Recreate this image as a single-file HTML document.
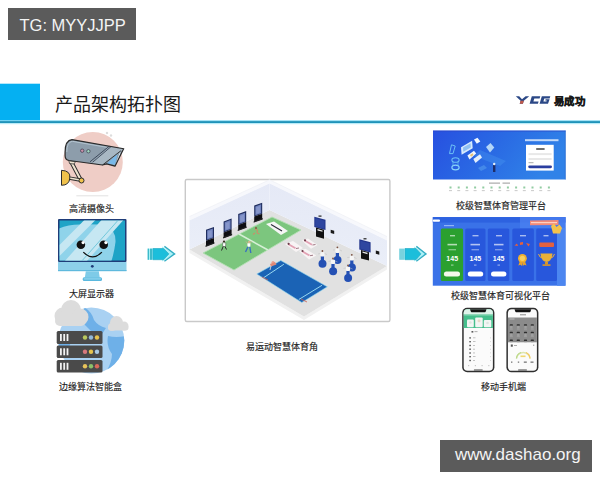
<!DOCTYPE html>
<html lang="zh-CN"><head><meta charset="utf-8">
<style>
html,body{margin:0;padding:0;}
body{width:600px;height:480px;position:relative;overflow:hidden;background:#fff;font-family:"Liberation Sans",sans-serif;}
.abs{position:absolute;}
svg.full{position:absolute;left:0;top:0;}
.tag{position:absolute;background:#5b5b5b;color:#f4f4f4;white-space:nowrap;}
.lbl{position:absolute;color:#222;font-size:9px;line-height:10px;white-space:nowrap;font-weight:400;-webkit-text-stroke:0.15px #222;}
</style></head>
<body>
<svg class="full" width="600" height="480" viewBox="0 0 600 480">
<!-- header -->
<rect x="0" y="83.7" width="40" height="37.5" fill="#05b0f2"/>
<rect x="0" y="120.2" width="600" height="1" fill="#8fdcf4"/>
<rect x="0" y="121.1" width="600" height="2.1" fill="#1f93ba"/>
<rect x="0" y="123.2" width="600" height="1" fill="#b5ecf8"/>

<!-- ===== camera icon ===== -->
<g id="camera">
<circle cx="92.8" cy="162" r="30" fill="#efcdc6"/>
<rect x="76.3" y="195.3" width="32" height="1" fill="#e2e2e2"/>
<circle cx="107" cy="133" r="1.2" fill="#ddd"/><circle cx="111" cy="135.5" r="1.2" fill="#ddd"/>
<!-- arm -->
<path d="M71 161.5 L80.5 179.5" stroke="#2d2d2d" stroke-width="4" stroke-linecap="round"/>
<path d="M71 161.5 L80.5 179.5" stroke="#efe3d0" stroke-width="2" stroke-linecap="round"/>
<path d="M68 177.8 L80 180" stroke="#2d2d2d" stroke-width="3.4"/>
<path d="M68 177.8 L80 180" stroke="#efe3d0" stroke-width="1.5"/>
<path d="M61.5 170.3 Q70.8 170.8 69.8 178 Q69.3 185.3 61.5 185.3 Z" fill="#f0c24c" stroke="#2d2d2d" stroke-width="1"/>
<circle cx="81.5" cy="180.5" r="2.5" fill="#f0c24c" stroke="#2d2d2d" stroke-width="1"/>
<path d="M68.8 160.6 L75.5 161.6 L74 164 L69.5 163.5 Z" fill="#efe3d0" stroke="#2d2d2d" stroke-width="0.7"/>
<!-- body -->
<path d="M65.1 152 Q65.1 140.3 72 139.6 L123.75 148.75 L122.9 150.2 L115 166.2 L106.7 163.9 L102.5 165 L69 160.5 Q65.3 159.8 65.1 156 Z" fill="#8d9dab"/>
<path d="M66.8 152 Q66.8 142 72.3 141.3 L108 147.5" fill="none" stroke="#b8c8d4" stroke-width="0.9"/>
<path d="M91.5 162.6 L109.8 146.4 L123.75 148.75 L122.9 150.2 L120.8 150.8 L102.5 165 Z" fill="#a8b7c3"/>
<path d="M90 161.8 L109.2 146.2 M92.6 162.3 L111 146.6" stroke="#2a3548" stroke-width="0.8"/>
<path d="M106.7 163.8 L117.5 153.7 L115.2 164.8 Z" fill="#79b8e8"/>
<path d="M120.2 152.5 L116.2 163.8" stroke="#e0eef8" stroke-width="0.9"/>
<path d="M102.5 165 L120.8 150.8" stroke="#2d2d2d" stroke-width="0.9"/>
<path d="M65.1 152 Q65.1 140.3 72 139.6 L123.75 148.75 L122.9 150.2 L115 166.2 L106.7 163.9 L102.5 165 L69 160.5 Q65.3 159.8 65.1 156 Z" fill="none" stroke="#2a2a2a" stroke-width="1.2" stroke-linejoin="round"/>
<circle cx="82.2" cy="150.7" r="1.7" fill="#c890a8" stroke="#3a3a4a" stroke-width="0.7"/>
<circle cx="88.4" cy="151.25" r="1.7" fill="#a0d8c0" stroke="#3a3a4a" stroke-width="0.7"/>
</g>

<!-- ===== monitor icon ===== -->
<g id="monitor">
<rect x="58" y="219" width="68.5" height="43" rx="1" fill="#1f3c78"/>
<rect x="59.5" y="220.5" width="65.5" height="40" fill="#1ea3c6"/>
<clipPath id="scr"><rect x="59.5" y="220.5" width="65.5" height="40"/></clipPath>
<g clip-path="url(#scr)">
<path d="M59 228.5 Q68 224.5 80 224.4 Q98 224.2 106 225 Q116 230 115.5 242 Q114 254 111 262 L59 262 Z" fill="#8fd3ea"/>
<path d="M84.4 220 L95.5 220 L59.5 256 L59.5 245 Z" fill="#c6e7f2"/>
<path d="M101.5 220 L123.5 220 L86 262 L64 262 Z" fill="#c6e7f2"/>
<path d="M118.3 220 L81.8 261" stroke="#5cc0d6" stroke-width="0.8"/>
</g>
<rect x="58" y="262" width="68.5" height="9" fill="#8dd0ea"/>
<rect x="58" y="270" width="68.5" height="1.2" fill="#5fb9dd"/>
<circle cx="92.3" cy="266.3" r="1.4" fill="#1f3c78"/>
<path d="M85.8 271.2 L98.8 271.2 L99.8 278 L84.8 278 Z" fill="#7ecbe8"/>
<rect x="82.7" y="277.3" width="19.3" height="3.8" rx="1.5" fill="#5ab8de"/>
<rect x="83.7" y="277.6" width="17.3" height="2.2" rx="1" fill="#82cdea"/>
<circle cx="80.9" cy="244.8" r="4.3" fill="#111"/><circle cx="83.1" cy="242.6" r="1.6" fill="#fff"/>
<circle cx="103.7" cy="244.8" r="4.3" fill="#111"/><circle cx="105.9" cy="242.6" r="1.6" fill="#fff"/>
<path d="M83.3 252.2 Q92.6 261.5 101.9 252.2" fill="none" stroke="#111" stroke-width="1.2"/>
</g>

<!-- ===== server icon ===== -->
<g id="server">
<circle cx="91.3" cy="340.6" r="33" fill="#a9d1f2"/>
<clipPath id="glb"><circle cx="91.3" cy="340.6" r="33"/></clipPath>
<g clip-path="url(#glb)" fill="#6eb0e8">
<path d="M84 307 Q92 312 94 320 Q98 326 106 328 L102 334 L92 332 Q86 326 82 322 Z"/>
<path d="M56 330 Q64 330 70 338 Q72 346 66 350 L56 350 Z"/>
<path d="M108 336 Q116 338 126 336 L126 372 L106 372 Q112 362 112 354 Q106 346 108 336 Z"/>
</g>
<g fill="#dcdcdc">
<circle cx="63" cy="316" r="8.5"/><circle cx="71" cy="310" r="10"/><circle cx="80" cy="317" r="8.5"/><rect x="55" y="316" width="31" height="10" rx="5"/>
<circle cx="116.5" cy="322.5" r="6.5"/><circle cx="112" cy="327" r="4"/><circle cx="124" cy="326" r="4.5"/><rect x="108" y="325" width="20.5" height="5.5" rx="2.7"/>
</g>
<g>
<rect x="56.7" y="331" width="45.8" height="13" rx="1.5" fill="#4a4a4a"/>
<rect x="56.7" y="345.5" width="45.8" height="12.5" rx="1.5" fill="#4a4a4a"/>
<rect x="56.7" y="360" width="45.8" height="12.5" rx="1.5" fill="#4a4a4a"/>
<g fill="#f2f2f2">
<rect x="60" y="334" width="1.8" height="7"/><rect x="63.3" y="334" width="1.8" height="7"/><rect x="66.6" y="334" width="1.8" height="7"/>
<rect x="60" y="348.3" width="1.8" height="7"/><rect x="63.3" y="348.3" width="1.8" height="7"/><rect x="66.6" y="348.3" width="1.8" height="7"/>
<rect x="60" y="362.8" width="1.8" height="7"/><rect x="63.3" y="362.8" width="1.8" height="7"/><rect x="66.6" y="362.8" width="1.8" height="7"/>
</g>
<circle cx="85" cy="337.5" r="2.2" fill="#b9c85e"/><circle cx="91" cy="337.5" r="2.2" fill="#93b9d9"/><circle cx="97" cy="337.5" r="2.2" fill="#e6c34e"/>
<circle cx="85" cy="351.8" r="2.2" fill="#d8797d"/><circle cx="91" cy="351.8" r="2.2" fill="#e6c34e"/><circle cx="97" cy="351.8" r="2.2" fill="#a9c8e2"/>
<circle cx="85" cy="366.3" r="2.2" fill="#e8c35a"/><circle cx="91" cy="366.3" r="2.2" fill="#8cc06a"/><circle cx="97" cy="366.3" r="2.2" fill="#d9685a"/>
</g>
</g>

<!-- ===== arrows ===== -->
<g id="arrow1">
<rect x="147.6" y="248.6" width="5.3" height="11.2" fill="#a6f0f6"/>
<rect x="147.7" y="248.6" width="1.2" height="11.2" fill="#34b4c6"/>
<rect x="150.1" y="248.6" width="1.8" height="11.2" fill="#34b4c6"/>
<path d="M162 246.4 L174.8 253.9 L162 261.4 Z" fill="#aef2f8"/>
<path d="M152.9 248.5 L163.5 248.5 L168.9 253.9 L163.5 259.7 L152.9 259.7 Z" fill="#1cbedb" stroke="#2aaec6" stroke-width="0.7"/>
<path d="M164.4 246.4 L174.6 253.9 L164.4 261.3" fill="none" stroke="#34aec4" stroke-width="1.4"/>
</g>
<g id="arrow2">
<rect x="399.2" y="248.6" width="5" height="11.2" fill="#78d2de"/>
<rect x="404.1" y="248.6" width="1" height="11.2" fill="#aaf2f8"/>
<path d="M414 246.4 L426.2 253.9 L414 261.4 Z" fill="#aef2f8"/>
<path d="M405 248.5 L416 248.5 L421 253.9 L416 259.7 L405 259.7 Z" fill="#1cbedb" stroke="#2aaec6" stroke-width="0.7"/>
<path d="M416.3 246.4 L426 253.9 L416.3 261.3" fill="none" stroke="#34aec4" stroke-width="1.4"/>
</g>

<!-- ===== scene ===== -->
<g id="scene">
<rect x="185.3" y="179.5" width="204.6" height="142" rx="1.5" fill="#fff" stroke="#c9c9c9" stroke-width="1.4"/>
<!-- floor lip -->
<path d="M189.5 249.5 L304 316.5 L387 266 L387 269.5 L304 320 L189.5 253 Z" fill="#f1f1f1"/>
<!-- floor -->
<path d="M189.5 249.5 L269.5 210 L387 266 L304 316.5 Z" fill="#e1e1e1"/>
<!-- walls -->
<defs>
<linearGradient id="wl" x1="0" y1="0" x2="0" y2="1"><stop offset="0" stop-color="#e5e9f6"/><stop offset="1" stop-color="#eaeef8"/></linearGradient>
</defs>
<path d="M189.5 220 L269.5 183 L269.5 210 L189.5 249.5 Z" fill="url(#wl)"/>
<path d="M269.5 183 L387 240 L387 266 L269.5 210 Z" fill="url(#wl)"/>
<path d="M189.5 216.5 L269.5 179.8 L387 236.5 L387 240.5 L269.5 183.5 L189.5 220.5 Z" fill="#f7f8fc"/>
<path d="M189.5 216.5 L269.5 179.8 L387 236.5" fill="none" stroke="#eceef4" stroke-width="0.6"/>
<!-- green mat -->
<path d="M203 253 L272 217 L301 230 L234 270 Z" fill="#7cc67e" stroke="#b4e0b4" stroke-width="0.9"/>
<path d="M239 234 L268 250" stroke="#d6f0d6" stroke-width="1.5"/>
<path d="M266 224 L274 221.5 L288 231 L281 235 Z" fill="#f6f6f6"/>
<path d="M271 224.5 L282 231" stroke="#2a2a3a" stroke-width="1.1"/>
<!-- kiosks -->
<g>
<g transform="translate(206 229.8) skewY(-20)"><rect x="0" y="0" width="8" height="11.0" fill="#1f2d5e"/><rect x="1.1" y="1.2" width="5.8" height="8.9" fill="#7083bf"/><rect x="2" y="2.5" width="3.8" height="6.5" fill="#9aa8d6" opacity="0.5"/><rect x="0" y="11.0" width="8" height="5.5" fill="#0e0e12"/><rect x="-0.5" y="15.5" width="9" height="1.4" fill="#222"/></g>
<g transform="translate(223.6 221.4) skewY(-20)"><rect x="0" y="0" width="8" height="11.0" fill="#1f2d5e"/><rect x="1.1" y="1.2" width="5.8" height="8.9" fill="#7083bf"/><rect x="2" y="2.5" width="3.8" height="6.5" fill="#9aa8d6" opacity="0.5"/><rect x="0" y="11.0" width="8" height="5.5" fill="#0e0e12"/><rect x="-0.5" y="15.5" width="9" height="1.4" fill="#222"/></g>
<g transform="translate(238.2 214) skewY(-20)"><rect x="0" y="0" width="8" height="11.0" fill="#1f2d5e"/><rect x="1.1" y="1.2" width="5.8" height="8.9" fill="#7083bf"/><rect x="2" y="2.5" width="3.8" height="6.5" fill="#9aa8d6" opacity="0.5"/><rect x="0" y="11.0" width="8" height="5.5" fill="#0e0e12"/><rect x="-0.5" y="15.5" width="9" height="1.4" fill="#222"/></g>
<g transform="translate(254.2 205.6) skewY(-20)"><rect x="0" y="0" width="8" height="11.0" fill="#1f2d5e"/><rect x="1.1" y="1.2" width="5.8" height="8.9" fill="#7083bf"/><rect x="2" y="2.5" width="3.8" height="6.5" fill="#9aa8d6" opacity="0.5"/><rect x="0" y="11.0" width="8" height="5.5" fill="#0e0e12"/><rect x="-0.5" y="15.5" width="9" height="1.4" fill="#222"/></g>
</g>
<!-- people on green -->
<g>
<circle cx="224" cy="241.5" r="1.1" fill="#3a2a20"/><path d="M222.5 242.8 L225.8 242.8 L225.5 246.5 L222.8 246.5 Z" fill="#fff" stroke="#333" stroke-width="0.4"/><path d="M223.2 246.5 L221.5 250.5 M225 246.5 L226.5 249.5" stroke="#2a2a2a" stroke-width="1"/>
<circle cx="249" cy="242" r="1.1" fill="#e8b090"/><path d="M247.3 243.2 L250.5 243.2 L250.3 246.8 L247.6 246.8 Z" fill="#fff"/><path d="M248 246.8 L245.5 252 M249.8 246.8 L250.8 253" stroke="#3a70c0" stroke-width="1.4"/><path d="M247.5 243.5 L246 241.5 M250.3 243.5 L251.5 241" stroke="#e8b090" stroke-width="0.6"/>
<circle cx="256" cy="228" r="1.1" fill="#8a5a40"/><path d="M254.8 229.5 L257.5 230 L257 233 M255 233 L253 234.5 M257 233 L259.5 234" stroke="#c9906a" stroke-width="1.2" fill="none"/>
</g>
<!-- exercise mats -->
<g>
<path d="M285 244 L293 241 L303 248 L296 252 Z" fill="#f8f4f5"/><path d="M288.5 244.3 L295.5 248.3" stroke="#e2a2b4" stroke-width="1.8"/><circle cx="288.6" cy="243.8" r="1.1" fill="#6a3a48"/><path d="M296 248.5 L299 248" stroke="#8a5a68" stroke-width="0.8"/>
<path d="M301.9 240.5 L308 238.5 L317.5 245 L311 248.8 Z" fill="#f8f4f5"/><path d="M305 240.8 L312 244.8" stroke="#e2a2b4" stroke-width="1.8"/><circle cx="305" cy="240.3" r="1.1" fill="#6a3a48"/><path d="M312.5 245 L315.5 244.5" stroke="#8a5a68" stroke-width="0.8"/>
<path d="M299 251 L305.5 248.8 L316.3 255.5 L309 259.4 Z" fill="#f8f4f5"/><path d="M302.5 251.5 L309.5 255.5" stroke="#e2a2b4" stroke-width="1.8"/><circle cx="302.5" cy="251" r="1.1" fill="#6a3a48"/><path d="M310 255.7 L313 255.2" stroke="#8a5a68" stroke-width="0.8"/>
</g>
<!-- TVs -->
<g>
<path d="M314.3 216.7 L325.5 219.8 L325.5 230 L314.3 227 Z" fill="#23368c"/>
<path d="M315.3 218.2 L324.5 220.8 L324.5 228.8 L315.3 226.2 Z" fill="#2e46a0"/>
<rect x="318.5" y="215.5" width="3" height="1.2" fill="#222"/>
<path d="M316 227.6 L324 229.8 L324 238.8 L316 236.6 Z" fill="#111"/>
<path d="M317.5 229 L322.5 230.4 L322.5 231.8 L317.5 230.4 Z" fill="#e8e8e8"/>
<path d="M330.7 229.7 L334.2 230.7 L334.2 234 L330.7 233 Z" fill="#1a1a1a"/>
<path d="M359.3 239.3 L370.6 242.3 L370.6 252.5 L359.3 249.5 Z" fill="#23368c"/>
<path d="M360.3 240.8 L369.6 243.3 L369.6 251.3 L360.3 248.8 Z" fill="#2e46a0"/>
<rect x="363.5" y="238.2" width="3" height="1.2" fill="#222"/>
<path d="M361 250 L369 252.2 L369 260.6 L361 258.4 Z" fill="#111"/>
<path d="M362.5 251.4 L367.5 252.8 L367.5 254.2 L362.5 252.8 Z" fill="#e8e8e8"/>
<path d="M375.8 250.5 L379.3 251.5 L379.3 254.8 L375.8 253.8 Z" fill="#1a1a1a"/>
</g>
<!-- blue mat -->
<path d="M256.8 274 L280.8 260.5 L327.3 286.8 L301.8 302.5 Z" fill="#1b63b5" stroke="#8cd6f0" stroke-width="0.6"/>
<path d="M263.5 277.8 L283.8 264.3 M298.8 299.5 L322 285.3" stroke="#a6e4f6" stroke-width="0.9"/>
<path d="M262 277 L268 280 M301 299 L307 302" stroke="#d06050" stroke-width="0.8"/>
<g fill="#e9a090"><circle cx="273" cy="262.5" r="1.6"/></g>
<path d="M270 264 L275 262 L276.5 264.5 L271 266.5 Z" fill="#e08a78"/>
<path d="M271 266 L270 270" stroke="#f0e0e0" stroke-width="0.8"/>
<!-- bikes -->
<g fill="#2450b4">
<circle cx="322.5" cy="263.7" r="4"/><rect x="320.8" y="255.8" width="3.2" height="6"/>
<circle cx="337.5" cy="260" r="4"/><rect x="335.8" y="252.2" width="3.2" height="6"/>
<circle cx="333.1" cy="271.2" r="4"/><rect x="331.4" y="263.4" width="3.2" height="6"/>
<circle cx="351.9" cy="267.5" r="4"/><rect x="350.2" y="259.7" width="3.2" height="6"/>
<circle cx="348.1" cy="278.1" r="4"/><rect x="346.4" y="270.3" width="3.2" height="6"/>
</g>
<g fill="#f6f6f6">
<rect x="320.3" y="252.3" width="4.2" height="4.3" rx="1"/><rect x="335.3" y="248.6" width="4.2" height="4.3" rx="1"/><rect x="330.9" y="259.8" width="4.2" height="4.3" rx="1"/><rect x="349.7" y="256.1" width="4.2" height="4.3" rx="1"/><rect x="345.9" y="266.8" width="4.2" height="4.3" rx="1"/>
</g>
<g fill="#7a5040">
<circle cx="322.4" cy="251" r="0.9"/><circle cx="337.4" cy="247.3" r="0.9"/><circle cx="333" cy="258.5" r="0.9"/><circle cx="351.8" cy="254.8" r="0.9"/><circle cx="348" cy="265.5" r="0.9"/>
</g>
<g stroke="#bdbdbd" stroke-width="0.5">
<path d="M318 254 L320.3 253.5 M324.5 253.5 L327 254.5 M333 250 L335.3 249.8 M339.5 249.8 L342 251 M328.5 261.3 L330.9 261 M335.1 261 L337.5 262 M347.3 257.5 L349.7 257.3 M353.9 257.3 L356.5 258.5 M343.5 268.3 L345.9 268 M350.1 268 L352.5 269"/>
</g>
</g>

<!-- ===== screenshot 1 ===== -->
<g id="shot1">
<defs>
<linearGradient id="g1" x1="0" y1="0" x2="1" y2="0.3"><stop offset="0" stop-color="#2750e0"/><stop offset="0.55" stop-color="#2a6be4"/><stop offset="1" stop-color="#3082e8"/></linearGradient>
</defs>
<rect x="433" y="130.6" width="132.6" height="49.1" fill="url(#g1)"/>
<rect x="433" y="130.6" width="132.6" height="0.9" fill="#2a46c4" opacity="0.8"/>
<rect x="564.8" y="130.6" width="0.8" height="49.1" fill="#2a64c8" opacity="0.7"/>
<rect x="525" y="139.2" width="33.5" height="2" fill="#d4e4fb" opacity="0.9"/>
<rect x="526" y="144.8" width="27.7" height="25.8" fill="#fff"/>
<rect x="536.2" y="148.3" width="8.4" height="1.4" fill="#333"/>
<rect x="528.5" y="153.1" width="23.1" height="2" fill="#e8e8e8"/>
<rect x="528.5" y="158" width="23.1" height="2" fill="#e8e8e8"/>
<rect x="528.5" y="162.2" width="5" height="1" fill="#aaa"/>
<rect x="528.2" y="165.4" width="23.8" height="2.8" rx="1.4" fill="#2a3ea0"/>
<g>
<path d="M480 150 L506 161 L500 166 L474 156 Z" fill="#4a9af0" opacity="0.35"/>
<path d="M461 147.2 L472.1 140.75 L472.7 148.3 L461.6 154.75 Z" fill="#d6eafd"/>
<path d="M463 147.5 L470.5 143.2 L470.8 147.6 L463.3 151.8 Z" fill="#8ec0f2"/>
<path d="M474 139.5 L477.5 137.8 L480.3 141.5 L476.8 143.7 Z" fill="#f0f7ff"/>
<path d="M486 147 L490.5 143 L494.3 147.5 L490 152.4 Z" fill="#b4d6f8"/>
<path d="M467.4 155.5 L474 150.7 L476.2 153.5 L469.5 159.4 Z" fill="#eef5fd"/>
<path d="M473.3 159 L480 154.2 L482 157.5 L475.5 163 Z" fill="#e2eefc"/>
<path d="M470 155 L472.5 153.3 L473.5 155 L471 156.8 Z" fill="#e8c070"/>
<path d="M449.5 153.6 L451.5 144.8 L455.2 146 L453 153.6 Z" fill="none" stroke="#6cc0f6" stroke-width="1"/>
<ellipse cx="455.5" cy="160" rx="3.6" ry="2.3" fill="none" stroke="#6cc0f6" stroke-width="1.1"/>
<ellipse cx="455.5" cy="167.5" rx="3.6" ry="2.3" fill="none" stroke="#8ad6fa" stroke-width="1.2"/>
<path d="M453 162 L453 165.5 M458 162 L458 165.5" stroke="#5cb0f0" stroke-width="0.8"/>
<rect x="493" y="165" width="2.4" height="7" fill="#1e2e6a"/>
<circle cx="494.2" cy="164" r="1.2" fill="#e8f0f8"/>
<path d="M478 168 L484 165 L487 168 L481 171 Z" fill="#4a90ea" opacity="0.8"/>
</g>
<rect x="433" y="179.7" width="132.6" height="13.3" fill="#fff"/>
<rect x="489" y="182.6" width="11" height="1" fill="#999"/><rect x="502.5" y="182.6" width="7.5" height="1" fill="#999"/>
<g fill="#92cca2">
<rect x="449.5" y="186.5" width="2" height="2"/><rect x="457.7" y="186.5" width="2" height="2"/><rect x="465.9" y="186.5" width="2" height="2"/><rect x="474.1" y="186.5" width="2" height="2"/><rect x="482.3" y="186.5" width="2" height="2"/><rect x="490.5" y="186.5" width="2" height="2"/><rect x="498.7" y="186.5" width="2" height="2"/><rect x="506.9" y="186.5" width="2" height="2"/><rect x="515.1" y="186.5" width="2" height="2"/><rect x="523.3" y="186.5" width="2" height="2"/><rect x="531.5" y="186.5" width="2" height="2"/><rect x="539.7" y="186.5" width="2" height="2"/><rect x="547.9" y="186.5" width="2" height="2"/>
</g>
<g fill="#bbb">
<rect x="449" y="190.3" width="3" height="0.8"/><rect x="457.2" y="190.3" width="3" height="0.8"/><rect x="465.4" y="190.3" width="3" height="0.8"/><rect x="473.6" y="190.3" width="3" height="0.8"/><rect x="481.8" y="190.3" width="3" height="0.8"/><rect x="490" y="190.3" width="3" height="0.8"/><rect x="498.2" y="190.3" width="3" height="0.8"/><rect x="506.4" y="190.3" width="3" height="0.8"/><rect x="514.6" y="190.3" width="3" height="0.8"/><rect x="522.8" y="190.3" width="3" height="0.8"/><rect x="531" y="190.3" width="3" height="0.8"/><rect x="539.2" y="190.3" width="3" height="0.8"/><rect x="547.4" y="190.3" width="3" height="0.8"/>
</g>
</g>

<!-- ===== screenshot 2 ===== -->
<g id="shot2">
<rect x="432.8" y="217.1" width="132.7" height="68.6" fill="#3a72e8"/>
<rect x="432.8" y="217.1" width="132.7" height="5.5" fill="#2d62e0"/>
<rect x="520" y="217.1" width="45.5" height="11" fill="#4a80f0" opacity="0.8"/>
<rect x="557" y="228" width="8.5" height="57.7" fill="#4c86f0"/>
<rect x="432.8" y="219.4" width="7.2" height="2.3" rx="1" fill="#fff"/>
<rect x="444" y="225" width="10" height="1.2" fill="#8fb4f8"/>
<rect x="440.8" y="228.6" width="22.3" height="52.5" rx="1.5" fill="#2ba02f"/>
<rect x="465.2" y="228.6" width="20.3" height="52.5" rx="1.5" fill="#2857dc"/>
<rect x="487.8" y="228.6" width="21.5" height="52.5" rx="1.5" fill="#2857dc"/>
<rect x="512.3" y="228.6" width="21.6" height="52.5" rx="1.5" fill="#2857dc"/>
<rect x="536.2" y="228.6" width="20.8" height="52.5" rx="1.5" fill="#2857dc"/>
<g fill="#fff">
<rect x="450" y="235" width="5" height="1.4" opacity="0.6"/><rect x="472.5" y="235" width="6" height="1.4" opacity="0.6"/><rect x="496" y="235" width="6" height="1.4" opacity="0.6"/><rect x="520" y="235" width="6" height="1.4" opacity="0.6"/><rect x="543.5" y="235" width="5" height="1.4" opacity="0.6"/>
<rect x="447.5" y="243.8" width="9.5" height="1.6" opacity="0.65"/><rect x="470.5" y="243.8" width="9.5" height="1.6" opacity="0.65"/><rect x="494" y="243.8" width="9.5" height="1.6" opacity="0.65"/>
<rect x="448.5" y="249.2" width="7.5" height="1.1" opacity="0.5"/><rect x="471.5" y="249.2" width="7.5" height="1.1" opacity="0.5"/><rect x="495" y="249.2" width="7.5" height="1.1" opacity="0.5"/>
<rect x="451" y="264.5" width="2.5" height="1.2" opacity="0.5"/><rect x="474" y="264.5" width="2.5" height="1.2" opacity="0.5"/><rect x="497.5" y="264.5" width="2.5" height="1.2" opacity="0.5"/>
<rect x="443.9" y="271.4" width="16.1" height="5" rx="2.5" fill="#f4f8ea"/><rect x="467.8" y="271.4" width="15.4" height="5" rx="2.5"/><rect x="491" y="271.4" width="15.4" height="5" rx="2.5"/>
</g>
<g font-family="Liberation Sans" font-weight="bold" fill="#fff" font-size="7" text-anchor="middle">
<text x="452.2" y="261.4">145</text><text x="475.4" y="261.4">145</text><text x="498.6" y="261.4">145</text>
</g>
<!-- card 4 -->
<path d="M514.5 245.5 L517 243.5 L518 246 Z M520 242.5 L523 242 L523 244.5 L520 245 Z M526 243 L530 244 L528.5 246.5 Z" fill="#e8603a"/>
<circle cx="522.4" cy="258.3" r="4.4" fill="#f0b030"/><circle cx="522.4" cy="258.3" r="2.6" fill="#f8cf60"/>
<path d="M519.8 261.5 L518.3 265.5 L520.5 264.8 L522 266 L522.4 262.5 Z M525 261.5 L526.5 265.5 L524.3 264.8 L522.8 266 L522.4 262.5 Z" fill="#e9a22a"/>
<!-- card 5 -->
<rect x="539.3" y="242.5" width="14.7" height="4.6" rx="1" fill="#e3613e"/>
<path d="M540.5 253.5 L552.5 253.5 Q552 261 546.5 262 Q541 261 540.5 253.5 Z" fill="#e9b03a"/>
<path d="M538.5 254 Q540 258 542 258 M554.5 254 Q553 258 551 258" stroke="#e9b03a" stroke-width="1" fill="none"/>
<rect x="545" y="262" width="3" height="2.5" fill="#d9962a"/><rect x="542.5" y="264.3" width="8" height="1.6" fill="#d9962a"/>
<!-- banner -->
<path d="M530 220.5 L558.5 220 L558.5 225 L530 225.3 Z" fill="#f28a78"/>
<rect x="531" y="222" width="26" height="1.2" fill="#ffd0c0"/>
<path d="M551 226 L554 223.5 L556.5 227 L559.5 224.5 L562 228 L560 233.5 L553 233.5 Z" fill="#f3c24c"/>
</g>

<!-- ===== phones ===== -->
<g id="phones">
<!-- phone 1 -->
<rect x="462.2" y="307.8" width="32.2" height="64.5" rx="5" fill="#2f2f2f"/>
<rect x="463.7" y="309.3" width="29.2" height="61.5" rx="3.8" fill="#fbfbfb"/>
<path d="M463.7 313.1 Q463.7 309.3 467.5 309.3 L489.1 309.3 Q492.9 309.3 492.9 313.1 L492.9 328 L463.7 328 Z" fill="#45bf8c"/>
<path d="M463.7 313.1 Q463.7 309.3 467.5 309.3 L489.1 309.3 Q492.9 309.3 492.9 313.1 L492.9 314 L463.7 314 Z" fill="#dff3ea"/>
<rect x="463.7" y="314" width="29.2" height="1.5" fill="#8fd8b8"/>
<path d="M470 309.3 L486.5 309.3 L485.5 312 Q485 312.3 484 312.3 L472.5 312.3 Q471.5 312.3 471 312 Z" fill="#111"/>
<rect x="467" y="319.5" width="6.8" height="7.8" rx="1" fill="#f2f5f3"/>
<rect x="475.2" y="317.5" width="7.5" height="9.8" rx="1" fill="#f2f5f3"/>
<rect x="483.8" y="320" width="7.5" height="7.3" rx="1" fill="#f2f5f3"/>
<circle cx="470.4" cy="322.5" r="1.3" fill="#dbe6df"/><circle cx="479" cy="320.8" r="1.5" fill="#e8dcc8"/><circle cx="487.5" cy="323" r="1.3" fill="#dbe6df"/>
<g fill="#5a5a5a">
<rect x="471.5" y="331" width="1.8" height="1.6"/><rect x="474.5" y="331.3" width="3" height="0.8" fill="#999"/>
<rect x="469.3" y="337.2" width="1.6" height="1.4"/><rect x="473" y="337.5" width="2.5" height="0.7" fill="#aaa"/>
<rect x="469.3" y="341" width="1.6" height="1.4"/><rect x="473" y="341.3" width="2.5" height="0.7" fill="#aaa"/>
<rect x="469.3" y="344.8" width="1.6" height="1.4"/><rect x="473" y="345.1" width="2" height="0.7" fill="#aaa"/>
<rect x="469.3" y="348.5" width="1.6" height="1.4"/><rect x="473" y="348.8" width="2" height="0.7" fill="#aaa"/>
<rect x="469.3" y="352.3" width="1.6" height="1.4"/><rect x="473" y="352.6" width="2" height="0.7" fill="#aaa"/>
<rect x="469.3" y="356" width="1.6" height="1.4"/><rect x="473" y="356.3" width="2.5" height="0.7" fill="#aaa"/>
<rect x="469.3" y="359.8" width="1.6" height="1.4"/><rect x="473" y="360.1" width="2" height="0.7" fill="#aaa"/>
</g>
<g fill="#c8c8c8">
<rect x="490" y="337.5" width="0.8" height="0.8"/><rect x="490" y="341.3" width="0.8" height="0.8"/><rect x="490" y="345" width="0.8" height="0.8"/><rect x="490" y="348.8" width="0.8" height="0.8"/><rect x="490" y="352.5" width="0.8" height="0.8"/><rect x="490" y="356.3" width="0.8" height="0.8"/><rect x="490" y="360" width="0.8" height="0.8"/>
<rect x="468" y="365" width="1.2" height="1.2"/><rect x="474.8" y="365" width="1.2" height="1.2"/><rect x="481.5" y="365" width="1.2" height="1.2"/><rect x="488.2" y="365" width="1.2" height="1.2"/>
</g>
<rect x="473.8" y="369.6" width="9" height="0.8" rx="0.4" fill="#444"/>

<!-- phone 2 -->
<rect x="506.4" y="307.8" width="32" height="64.5" rx="5" fill="#2f2f2f"/>
<rect x="507.9" y="309.3" width="29" height="61.5" rx="3.8" fill="#fbfbfb"/>
<rect x="507.9" y="317.5" width="29" height="24.8" fill="#8b8b8b"/>
<path d="M514.5 309.3 L531.3 309.3 L530.3 312 Q529.8 312.3 528.8 312.3 L517 312.3 Q516 312.3 515.5 312 Z" fill="#111"/>
<rect x="520" y="314.3" width="6" height="1" fill="#888"/>
<rect x="509.5" y="318.6" width="5" height="0.8" fill="#c8c8c8"/>
<clipPath id="p2g"><rect x="507.9" y="317.5" width="29" height="24.8"/></clipPath>
<g clip-path="url(#p2g)">
<rect x="509.7" y="324.2" width="3.2" height="1.6" rx="0.6" fill="#2e2e2e"/><rect x="510.1" y="325.8" width="2.4" height="2.8" fill="#a0a0a0"/><rect x="509.8" y="328.8" width="3" height="0.7" fill="#a6a6a6"/>
<rect x="516.6999999999999" y="324.2" width="3.2" height="1.6" rx="0.6" fill="#2e2e2e"/><rect x="517.0999999999999" y="325.8" width="2.4" height="2.8" fill="#a0a0a0"/><rect x="516.8" y="328.8" width="3" height="0.7" fill="#a6a6a6"/>
<rect x="523.9" y="324.2" width="3.2" height="1.6" rx="0.6" fill="#2e2e2e"/><rect x="524.3" y="325.8" width="2.4" height="2.8" fill="#a0a0a0"/><rect x="524.0" y="328.8" width="3" height="0.7" fill="#a6a6a6"/>
<rect x="530.6999999999999" y="324.2" width="3.2" height="1.6" rx="0.6" fill="#2e2e2e"/><rect x="531.0999999999999" y="325.8" width="2.4" height="2.8" fill="#a0a0a0"/><rect x="530.8" y="328.8" width="3" height="0.7" fill="#a6a6a6"/>
<rect x="509.7" y="331.8" width="3.2" height="1.6" rx="0.6" fill="#2e2e2e"/><rect x="510.1" y="333.40000000000003" width="2.4" height="2.8" fill="#a0a0a0"/><rect x="509.8" y="336.40000000000003" width="3" height="0.7" fill="#a6a6a6"/>
<rect x="516.6999999999999" y="331.8" width="3.2" height="1.6" rx="0.6" fill="#2e2e2e"/><rect x="517.0999999999999" y="333.40000000000003" width="2.4" height="2.8" fill="#a0a0a0"/><rect x="516.8" y="336.40000000000003" width="3" height="0.7" fill="#a6a6a6"/>
<rect x="523.9" y="331.8" width="3.2" height="1.6" rx="0.6" fill="#2e2e2e"/><rect x="524.3" y="333.40000000000003" width="2.4" height="2.8" fill="#a0a0a0"/><rect x="524.0" y="336.40000000000003" width="3" height="0.7" fill="#a6a6a6"/>
<rect x="530.6999999999999" y="331.8" width="3.2" height="1.6" rx="0.6" fill="#2e2e2e"/><rect x="531.0999999999999" y="333.40000000000003" width="2.4" height="2.8" fill="#a0a0a0"/><rect x="530.8" y="336.40000000000003" width="3" height="0.7" fill="#a6a6a6"/>
<rect x="509.7" y="339.6" width="3.2" height="1.6" rx="0.6" fill="#2e2e2e"/><rect x="510.1" y="341.20000000000005" width="2.4" height="2.8" fill="#a0a0a0"/><rect x="509.8" y="344.20000000000005" width="3" height="0.7" fill="#a6a6a6"/>
<rect x="516.6999999999999" y="339.6" width="3.2" height="1.6" rx="0.6" fill="#2e2e2e"/><rect x="517.0999999999999" y="341.20000000000005" width="2.4" height="2.8" fill="#a0a0a0"/><rect x="516.8" y="344.20000000000005" width="3" height="0.7" fill="#a6a6a6"/>
<rect x="523.9" y="339.6" width="3.2" height="1.6" rx="0.6" fill="#2e2e2e"/><rect x="524.3" y="341.20000000000005" width="2.4" height="2.8" fill="#a0a0a0"/><rect x="524.0" y="344.20000000000005" width="3" height="0.7" fill="#a6a6a6"/>
<rect x="530.6999999999999" y="339.6" width="3.2" height="1.6" rx="0.6" fill="#2e2e2e"/><rect x="531.0999999999999" y="341.20000000000005" width="2.4" height="2.8" fill="#a0a0a0"/><rect x="530.8" y="344.20000000000005" width="3" height="0.7" fill="#a6a6a6"/>
</g>
<rect x="510.8" y="344.5" width="2" height="2.2" fill="#555"/><rect x="514" y="345.2" width="3" height="0.8" fill="#999"/>
<rect x="533" y="344.6" width="1.3" height="1.3" fill="#aaa"/>
<path d="M516.5 358.5 A6.8 6.8 0 0 1 530 358.5" fill="none" stroke="#dfe6b0" stroke-width="1.3"/>
<path d="M516.5 358.5 A6.8 6.8 0 0 1 521 352.5" fill="none" stroke="#b9d98a" stroke-width="1.3"/>
<path d="M526 352.5 A6.8 6.8 0 0 1 530 358.5" fill="none" stroke="#f2c860" stroke-width="1.3"/>
<rect x="520.5" y="355.5" width="5" height="1.6" fill="#f0d870"/>
<g fill="#777">
<rect x="511" y="361.5" width="1.4" height="1.3"/><rect x="517.8" y="361.5" width="1.4" height="1.3"/><rect x="523.8" y="361.5" width="3" height="1.3"/><rect x="530.5" y="361.5" width="3" height="1.3"/>
</g>
<rect x="518" y="369.6" width="9" height="0.8" rx="0.4" fill="#444"/>
</g>


<!-- ===== logo ===== -->
<g id="logo">
<path d="M515.8 96.3 L519.2 96.3 L522 99.2 L525.6 96.3 L529.2 96.3 L523.8 100.8 L522.9 103.7 L519.7 103.7 L520.6 100.8 Z" fill="#2b4886"/>
<path d="M520.6 100.8 L519.7 103.7 L522.9 103.7 L523.8 100.8 Z" fill="#c25a4a"/>
<path d="M531.8 96.3 L540.3 96.3 L539.6 98.5 L534.3 98.5 L533.4 101.5 L538.6 101.5 L537.9 103.7 L529.6 103.7 Z" fill="#2b4886"/>
<path d="M541.8 96.3 L550.3 96.3 L549.6 98.5 L544.3 98.5 L543.4 101.5 L546.4 101.5 L546.8 100.4 L545.2 100.4 L545.7 99.2 L549.6 99.2 L548 103.7 L539.6 103.7 Z" fill="#2b4886"/>
</g>
</svg>

<div class="tag" style="left:8px;top:8px;width:128px;height:31.5px;"><span style="position:absolute;left:11.5px;top:6.6px;font-size:16.5px;line-height:20px;">TG: MYYJJPP</span></div>
<div class="abs" style="left:55px;top:94px;font-size:18px;line-height:22px;color:#1a1a1a;white-space:nowrap;font-weight:300;">产品架构拓扑图</div>
<div class="abs" style="left:554px;top:96px;font-size:10px;line-height:12px;color:#1a1a1a;font-weight:900;-webkit-text-stroke:0.45px #1a1a1a;transform-origin:0 0;transform:scale(1.04,1);white-space:nowrap;">易成功</div>

<div class="lbl" style="left:68.7px;top:203.6px;">高清摄像头</div>
<div class="lbl" style="left:68.7px;top:288.8px;">大屏显示器</div>
<div class="lbl" style="left:59px;top:381.9px;">边缘算法智能盒</div>
<div class="lbl" style="left:246px;top:342px;">易运动智慧体育角</div>
<div class="lbl" style="left:455.5px;top:200.8px;">校级智慧体育管理平台</div>
<div class="lbl" style="left:451px;top:290.8px;">校级智慧体育可视化平台</div>
<div class="lbl" style="left:481px;top:382.2px;">移动手机端</div>

<div class="tag" style="left:440px;top:440px;width:152px;height:31.5px;"><span style="position:absolute;left:15px;top:4.5px;font-size:17px;line-height:20px;">www.dashao.org</span></div>
</body></html>
